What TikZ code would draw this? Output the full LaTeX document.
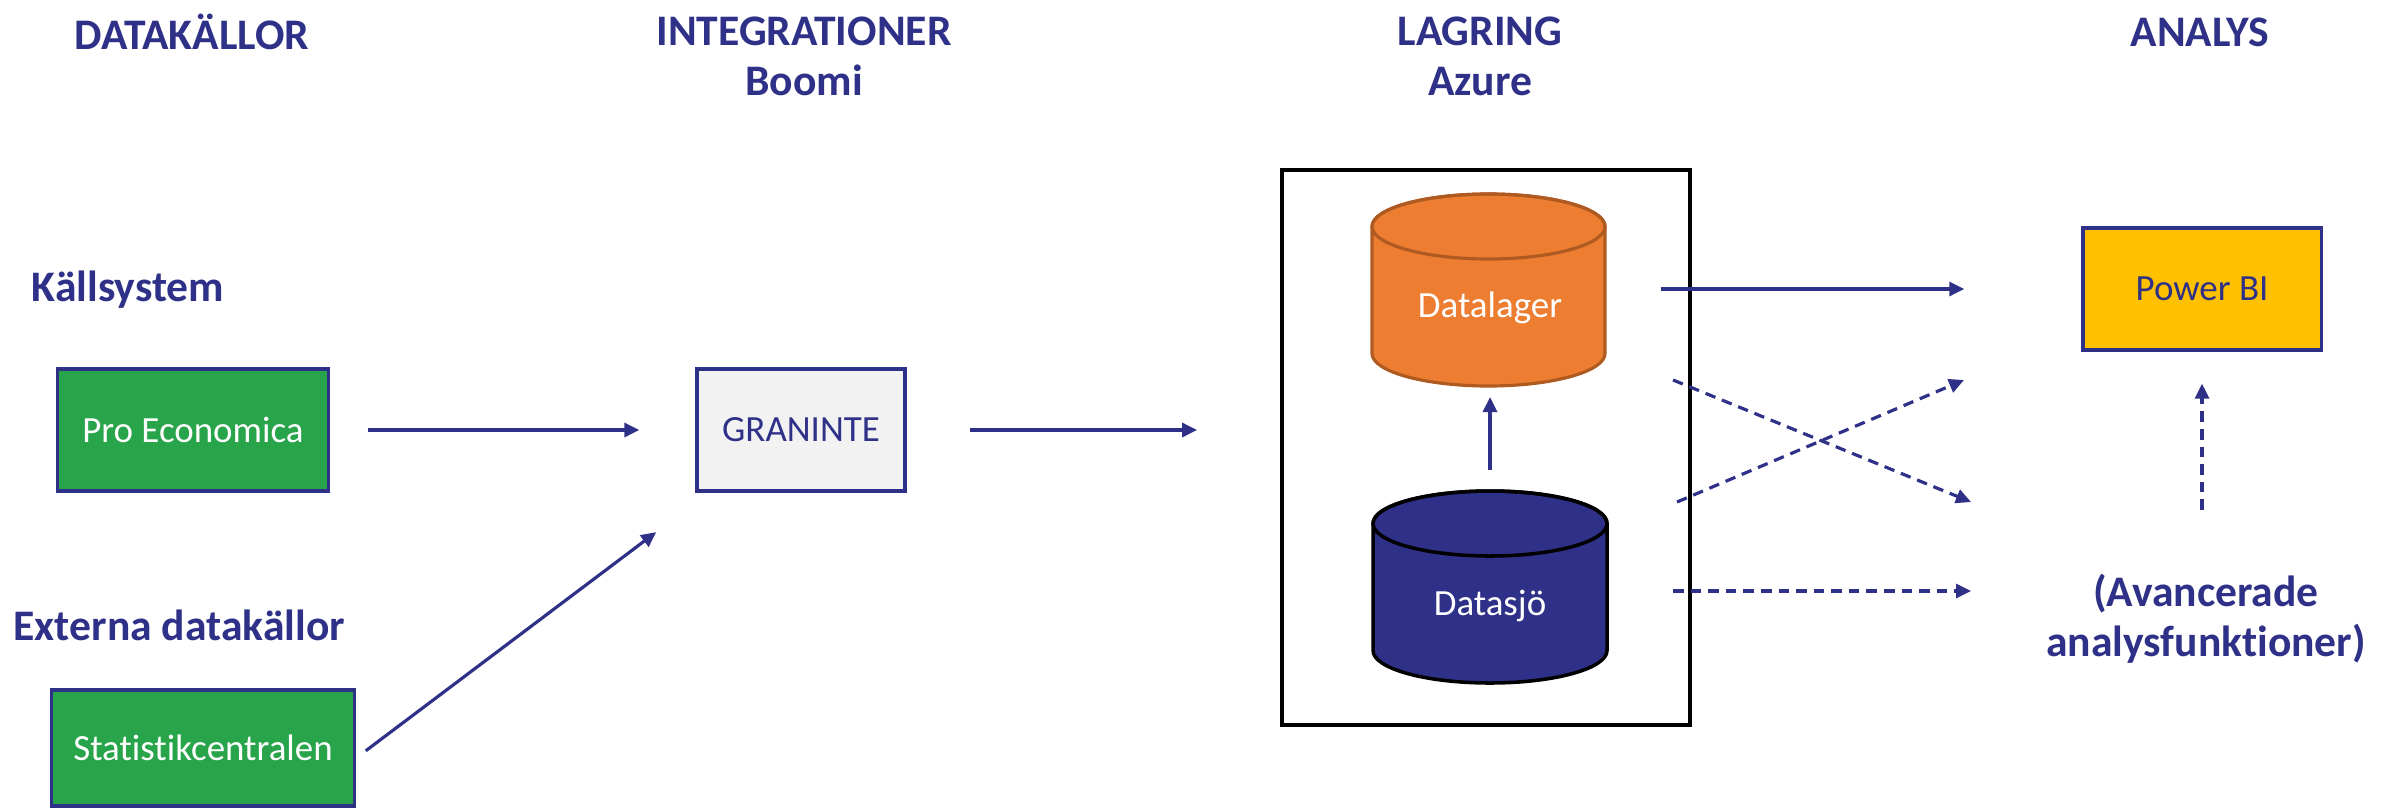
\documentclass[tikz,border=0pt]{standalone}
\usepackage{fontspec}
\setmainfont{Carlito}[Ligatures=CommonOff]
\usetikzlibrary{arrows.meta}
\definecolor{navy}{RGB}{46,49,135}
\definecolor{srcgreen}{RGB}{40,164,74}
\definecolor{dlorange}{RGB}{237,125,49}
\definecolor{dledge}{RGB}{174,90,33}
\definecolor{pbiyellow}{RGB}{255,192,0}
\definecolor{grgray}{RGB}{242,242,242}

\begin{document}
\begin{tikzpicture}[x=0.01cm, y=0.01cm,
  every node/.style={font=\fontsize{10.5}{12.6}\selectfont},
  head/.style={text=navy, font=\bfseries\fontsize{12.4}{14.2}\selectfont, align=center},
  src/.style={draw=navy, line width=0.9pt, fill=srcgreen, text=white, minimum height=1.22cm, inner sep=0pt},
  arr/.style={-{Triangle[length=0.15cm,width=0.14cm]}, line width=0.9pt, draw=navy},
  dsh/.style={arr, dash pattern=on 3pt off 2pt}]
\useasboundingbox (0,0) rectangle (2392,808);

% rubriker
\node[head] (hsrc) at (192,776) {DATAKÄLLOR};
\node[head] (hint) at (804,752) {INTEGRATIONER\\Boomi};
\node[head] (hlag) at (1480,752) {LAGRING\\Azure};
\node[head] (hana) at (2200,776) {ANALYS};
\node[head, anchor=west, inner sep=0pt] (hkall) at (31,518) {Källsystem};
\node[head, anchor=west, inner sep=0pt] (hext) at (13,183) {Externa datakällor};

% källor och integration
\node[src, minimum width=2.71cm] (pe) at (193,378) {Pro Economica};
\node[src, minimum width=3.03cm, minimum height=1.16cm] (sc) at (203,60) {Statistikcentralen};
\node[draw=navy, line width=0.9pt, fill=grgray, text=navy, minimum width=2.08cm, minimum height=1.22cm, inner sep=0pt] (gr) at (801,378) {GRANINTE};

% lagring
\node[draw=black, line width=1pt, minimum width=4.08cm, minimum height=5.55cm, inner sep=0pt] (lag) at (1486,360.5) {};
\draw[fill=dlorange, draw=dledge, line width=0.9pt] (1372,581.5) -- (1372,454.5) arc (180:360:116.5 and 32.5) -- (1605,581.5) arc (0:180:116.5 and 32.5) -- cycle;
\draw[draw=dledge, line width=0.9pt] (1488.5,581.5) ellipse (116.5 and 32.5);
\draw[fill=navy, draw=black, line width=1pt] (1373,284.5) -- (1373,157.5) arc (180:360:117 and 32.5) -- (1607,284.5) arc (0:180:117 and 32.5) -- cycle;
\draw[draw=black, line width=1pt] (1490,284.5) ellipse (117 and 32.5);
\node[text=white] (dl) at (1490,500) {Datalager};
\node[text=white] (ds) at (1490,202) {Datasjö};

% analys
\node[draw=navy, line width=0.9pt, fill=pbiyellow, text=navy, minimum width=2.38cm, minimum height=1.22cm, inner sep=0pt] (pbi) at (2202,519) {Power BI};
\node[head] (adv) at (2206,189) {(Avancerade\\analysfunktioner)};

\coordinate (a1) at (1673,428);
\coordinate (a2) at (1971,306);
\coordinate (b1) at (1677,306);
\coordinate (b2) at (1964,428);
\coordinate (c1) at (1673,217);
\coordinate (c2) at (1971,217);

% pilar
\draw[arr, shorten <=0.375cm, shorten >=0.56cm] (pe.east) -- (gr.west);
\draw[arr, shorten <=0.12cm, shorten >=0.49cm] ([yshift=-0.1cm]sc.east) -- ([yshift=-0.1cm]gr.south west);
\draw[arr, shorten <=0.63cm, shorten >=0.83cm] (gr.east) -- (gr.east -| lag.west);
\draw[arr, shorten <=1.36cm, shorten >=0.89cm] (ds.center) -- (dl.center);
\draw[arr, shorten <=1.705cm, shorten >=1.17cm] (dl.center |- pbi.west) -- (pbi.west);
\draw[dsh] (a1) -- (a2);
\draw[dsh] (b1) -- (b2);
\draw[dsh] (c1) -- (c2);
\draw[dsh, shorten <=1.09cm, shorten >=0.32cm] (pbi.south |- adv.center) -- (pbi.south);
\end{tikzpicture}
\end{document}
